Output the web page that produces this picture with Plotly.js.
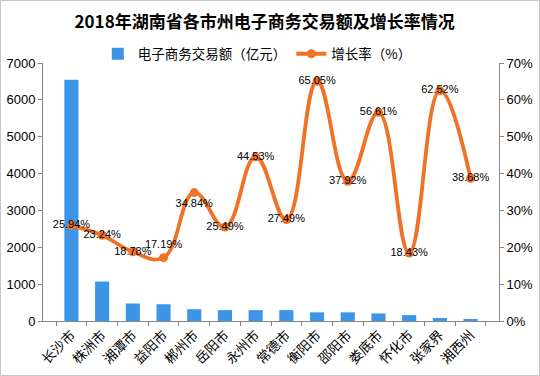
<!DOCTYPE html>
<html><head><meta charset="utf-8">
<script src="https://cdn.plot.ly/plotly-3.0.1.min.js"></script>
<style>
html,body{margin:0;padding:0;background:#fff;}
#chart{width:538px;height:374px;border:1px solid #c8c8c8;}
</style></head>
<body><div id="chart"></div>
<script>
const cities = ['长沙市','株洲市','湘潭市','益阳市','郴州市','岳阳市','永州市','常德市','衡阳市','邵阳市','娄底市','怀化市','张家界','湘西州'];
const volume = [6545, 1070, 475, 455, 320, 295, 295, 295, 235, 235, 205, 160, 80, 55];
const growth = [25.94, 23.24, 18.78, 17.19, 34.84, 25.49, 44.53, 27.49, 65.05, 37.92, 56.61, 18.43, 62.52, 38.68];
const labelPos = ['middle center','middle center','middle center','top center','bottom center','middle center','middle center','middle center','middle center','middle center','middle center','middle center','middle center','middle center'];

const cjk = '"Noto Sans CJK SC", "Liberation Sans", Arial, sans-serif';
const num = '"Liberation Sans", Arial, sans-serif';

const data = [
  {type:'bar', x:cities, y:volume, name:'电子商务交易额（亿元）',
   marker:{color:'#3d95e8'}, yaxis:'y'},
  {type:'scatter', mode:'lines+markers+text', x:cities, y:growth, name:'增长率（%）',
   yaxis:'y2', line:{color:'#f07226', width:3.8, shape:'spline', smoothing:1.2},
   marker:{color:'#f07226', size:9},
   text: growth.map(v=>v.toFixed(2)+'%'), textposition: labelPos,
   textfont:{family:num, size:11, color:'#000'}, cliponaxis:false}
];

const layout = {
  width:538, height:374,
  margin:{l:42, r:40, t:62, b:54},
  paper_bgcolor:'#fff', plot_bgcolor:'#fff',
  title:{text:'2018年湖南省各市州电子商务交易额及增长率情况', x:0.49, xanchor:'center', y:0.945, yanchor:'middle',
         font:{family:cjk, size:17, color:'#000', weight:'bold'}},
  bargap:0.54,
  showlegend:true,
  legend:{orientation:'h', x:0.47, xanchor:'center', y:1.035, yanchor:'middle',
          font:{family:cjk, size:13.5, color:'#000'}, bgcolor:'rgba(0,0,0,0)', itemwidth:30, tracegroupgap:0},
  xaxis:{type:'category', tickangle:-45, tickfont:{family:cjk, size:13.5, color:'#000'},
         showline:true, linecolor:'#888', linewidth:1, ticks:'outside', tickson:'boundaries', ticklen:4, tickcolor:'#888',
         showgrid:false, zeroline:false},
  yaxis:{range:[0,7000], dtick:1000, showline:true, linecolor:'#888', linewidth:1, ticks:'outside', ticklen:4, tickcolor:'#888',
         showgrid:false, zeroline:false, tickfont:{family:num, size:13, color:'#000'}},
  yaxis2:{range:[0,70], dtick:10, ticksuffix:'%', overlaying:'y', side:'right', showline:true, linecolor:'#888', linewidth:1,
          ticks:'outside', ticklen:4, tickcolor:'#888', showgrid:false, zeroline:false,
          tickfont:{family:num, size:13, color:'#000'}}
};

Plotly.newPlot('chart', data, layout, {displayModeBar:false, staticPlot:true});
</script></body></html>
